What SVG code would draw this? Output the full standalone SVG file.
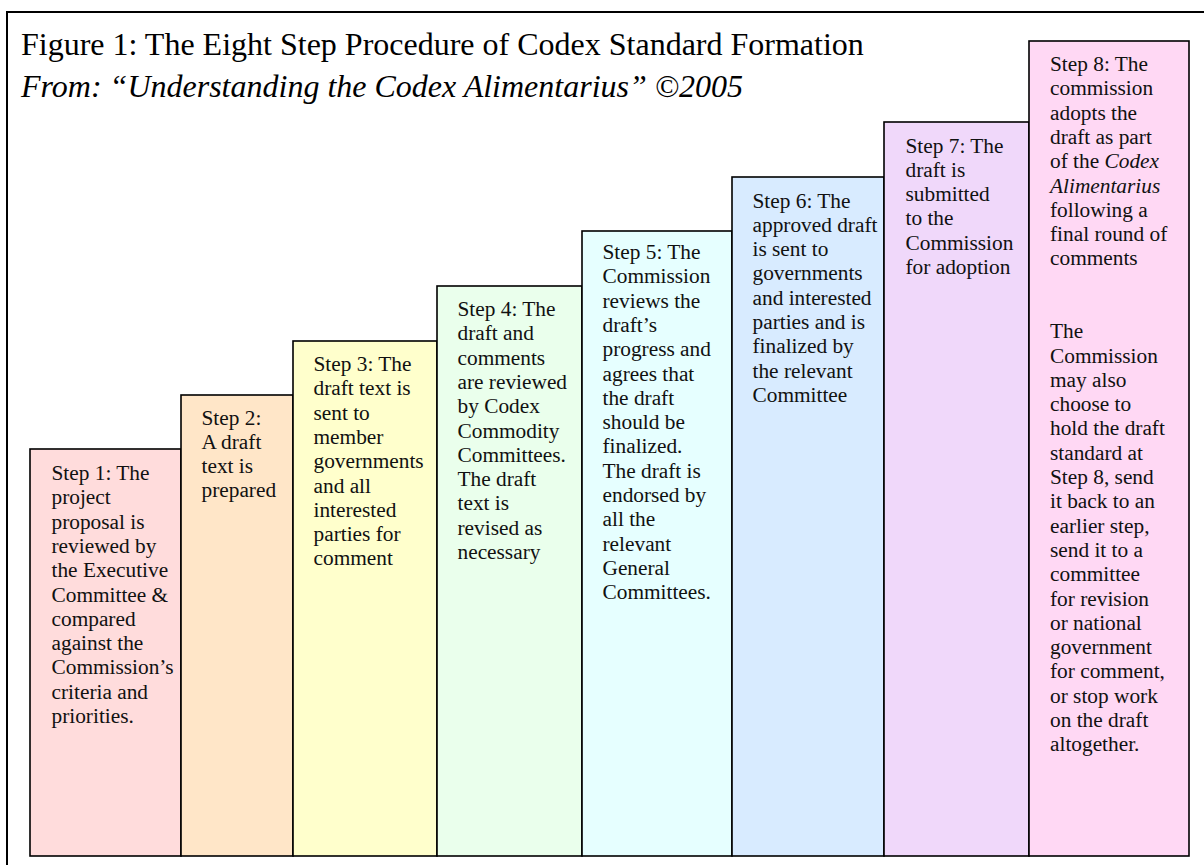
<svg xmlns="http://www.w3.org/2000/svg" width="1204" height="865" viewBox="0 0 1204 865">
<style>
  .frame{fill:#fff;stroke:#000;stroke-width:2}
  .box{stroke:#000;stroke-width:1.6}
  .t{font-family:"Liberation Serif","Times New Roman",serif;font-size:21.33px;fill:#111}
  .title{font-family:"Liberation Serif","Times New Roman",serif;font-size:32px;fill:#000}
  .sub{font-family:"Liberation Serif","Times New Roman",serif;font-size:32px;font-style:italic;fill:#000}
</style>
<rect x="0" y="0" width="1204" height="865" fill="#fff"/>
<rect class="frame" x="7" y="12" width="1220" height="880"/>
<text class="title" x="21" y="55">Figure 1: The Eight Step Procedure of Codex Standard Formation</text>
<text class="sub" x="21" y="97">From: “Understanding the Codex Alimentarius” ©2005</text>

<g id="step1">
<rect class="box" x="30" y="449" width="151" height="407" fill="#FFDCDC"/>
<text class="t" x="51.5" y="480"><tspan x="51.5">Step 1: The</tspan><tspan x="51.5" dy="24.3">project</tspan><tspan x="51.5" dy="24.3">proposal is</tspan><tspan x="51.5" dy="24.3">reviewed by</tspan><tspan x="51.5" dy="24.3">the Executive</tspan><tspan x="51.5" dy="24.3">Committee &amp;</tspan><tspan x="51.5" dy="24.3">compared</tspan><tspan x="51.5" dy="24.3">against the</tspan><tspan x="51.5" dy="24.3">Commission’s</tspan><tspan x="51.5" dy="24.3">criteria and</tspan><tspan x="51.5" dy="24.3">priorities.</tspan></text>
</g>

<g id="step2">
<rect class="box" x="181" y="395" width="112" height="461" fill="#FFE6C8"/>
<text class="t" x="201.5" y="424.5"><tspan x="201.5">Step 2:</tspan><tspan x="201.5" dy="24.3">A draft</tspan><tspan x="201.5" dy="24.3">text is</tspan><tspan x="201.5" dy="24.3">prepared</tspan></text>
</g>

<g id="step3">
<rect class="box" x="293" y="341" width="144" height="515" fill="#FFFFCC"/>
<text class="t" x="313.5" y="371"><tspan x="313.5">Step 3: The</tspan><tspan x="313.5" dy="24.3">draft text is</tspan><tspan x="313.5" dy="24.3">sent to</tspan><tspan x="313.5" dy="24.3">member</tspan><tspan x="313.5" dy="24.3">governments</tspan><tspan x="313.5" dy="24.3">and all</tspan><tspan x="313.5" dy="24.3">interested</tspan><tspan x="313.5" dy="24.3">parties for</tspan><tspan x="313.5" dy="24.3">comment</tspan></text>
</g>

<g id="step4">
<rect class="box" x="437" y="286" width="145" height="570" fill="#EAFFEC"/>
<text class="t" x="457.5" y="316"><tspan x="457.5">Step 4: The</tspan><tspan x="457.5" dy="24.3">draft and</tspan><tspan x="457.5" dy="24.3">comments</tspan><tspan x="457.5" dy="24.3">are reviewed</tspan><tspan x="457.5" dy="24.3">by Codex</tspan><tspan x="457.5" dy="24.3">Commodity</tspan><tspan x="457.5" dy="24.3">Committees.</tspan><tspan x="457.5" dy="24.3">The draft</tspan><tspan x="457.5" dy="24.3">text is</tspan><tspan x="457.5" dy="24.3">revised as</tspan><tspan x="457.5" dy="24.3">necessary</tspan></text>
</g>

<g id="step5">
<rect class="box" x="582" y="231" width="150" height="625" fill="#E6FFFF"/>
<text class="t" x="602.5" y="259"><tspan x="602.5">Step 5: The</tspan><tspan x="602.5" dy="24.3">Commission</tspan><tspan x="602.5" dy="24.3">reviews the</tspan><tspan x="602.5" dy="24.3">draft’s</tspan><tspan x="602.5" dy="24.3">progress and</tspan><tspan x="602.5" dy="24.3">agrees that</tspan><tspan x="602.5" dy="24.3">the draft</tspan><tspan x="602.5" dy="24.3">should be</tspan><tspan x="602.5" dy="24.3">finalized.</tspan><tspan x="602.5" dy="24.3">The draft is</tspan><tspan x="602.5" dy="24.3">endorsed by</tspan><tspan x="602.5" dy="24.3">all the</tspan><tspan x="602.5" dy="24.3">relevant</tspan><tspan x="602.5" dy="24.3">General</tspan><tspan x="602.5" dy="24.3">Committees.</tspan></text>
</g>

<g id="step6">
<rect class="box" x="732" y="177" width="152" height="679" fill="#D8EBFF"/>
<text class="t" x="752.5" y="207.5"><tspan x="752.5">Step 6: The</tspan><tspan x="752.5" dy="24.3">approved draft</tspan><tspan x="752.5" dy="24.3">is sent to</tspan><tspan x="752.5" dy="24.3">governments</tspan><tspan x="752.5" dy="24.3">and interested</tspan><tspan x="752.5" dy="24.3">parties and is</tspan><tspan x="752.5" dy="24.3">finalized by</tspan><tspan x="752.5" dy="24.3">the relevant</tspan><tspan x="752.5" dy="24.3">Committee</tspan></text>
</g>

<g id="step7">
<rect class="box" x="884" y="122" width="145" height="734" fill="#F0D8FA"/>
<text class="t" x="905.5" y="152.5"><tspan x="905.5">Step 7: The</tspan><tspan x="905.5" dy="24.3">draft is</tspan><tspan x="905.5" dy="24.3">submitted</tspan><tspan x="905.5" dy="24.3">to the</tspan><tspan x="905.5" dy="24.3">Commission</tspan><tspan x="905.5" dy="24.3">for adoption</tspan></text>
</g>

<g id="step8">
<rect class="box" x="1029" y="41" width="160" height="815" fill="#FFD8F4"/>
<text class="t" x="1050" y="71"><tspan x="1050">Step 8: The</tspan><tspan x="1050" dy="24.3">commission</tspan><tspan x="1050" dy="24.3">adopts the</tspan><tspan x="1050" dy="24.3">draft as part</tspan><tspan x="1050" dy="24.3">of the <tspan font-style="italic">Codex</tspan></tspan><tspan x="1050" dy="24.3" font-style="italic">Alimentarius</tspan><tspan x="1050" dy="24.3">following a</tspan><tspan x="1050" dy="24.3">final round of</tspan><tspan x="1050" dy="24.3">comments</tspan><tspan x="1050" dy="72.9">The</tspan><tspan x="1050" dy="24.3">Commission</tspan><tspan x="1050" dy="24.3">may also</tspan><tspan x="1050" dy="24.3">choose to</tspan><tspan x="1050" dy="24.3">hold the draft</tspan><tspan x="1050" dy="24.3">standard at</tspan><tspan x="1050" dy="24.3">Step 8, send</tspan><tspan x="1050" dy="24.3">it back to an</tspan><tspan x="1050" dy="24.3">earlier step,</tspan><tspan x="1050" dy="24.3">send it to a</tspan><tspan x="1050" dy="24.3">committee</tspan><tspan x="1050" dy="24.3">for revision</tspan><tspan x="1050" dy="24.3">or national</tspan><tspan x="1050" dy="24.3">government</tspan><tspan x="1050" dy="24.3">for comment,</tspan><tspan x="1050" dy="24.3">or stop work</tspan><tspan x="1050" dy="24.3">on the draft</tspan><tspan x="1050" dy="24.3">altogether.</tspan></text>
</g>

<g id="connectors"></g>
</svg>
